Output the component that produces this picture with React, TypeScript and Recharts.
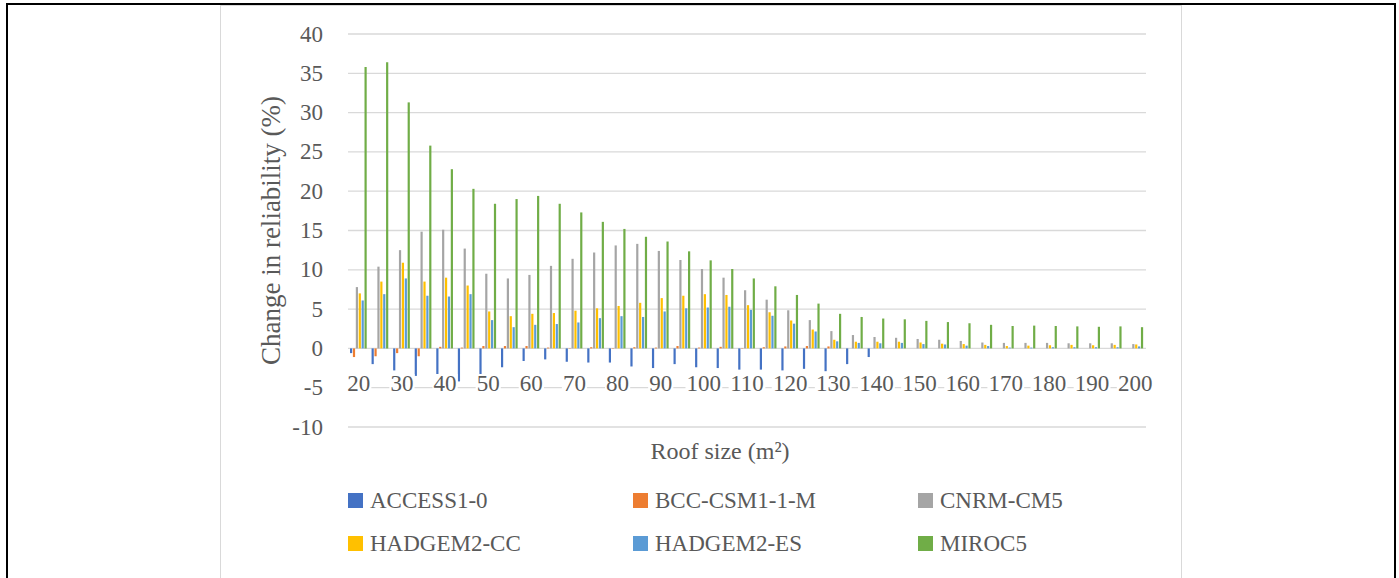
import React from "react";
import { BarChart, Bar, XAxis, YAxis, CartesianGrid, Label } from "recharts";

const roofSizes = [
  20, 25, 30, 35, 40, 45, 50, 55, 60, 65, 70, 75, 80, 85, 90, 95, 100, 105, 110,
  115, 120, 125, 130, 135, 140, 145, 150, 155, 160, 165, 170, 175, 180, 185, 190,
  195, 200,
];

const access10 = [
  -0.6, -2.0, -2.8, -3.5, -3.4, -4.2, -3.4, -2.4, -1.6, -1.4, -1.7, -1.8, -1.8,
  -2.3, -2.5, -2.0, -2.4, -2.5, -2.7, -2.7, -2.8, -2.6, -2.9, -2.0, -1.1, 0, 0,
  0, 0, 0, 0, 0, 0, 0, 0, 0, 0,
];
const bccCsm = [
  -1.1, -1.0, -0.6, -1.0, 0.2, 0.1, 0.3, 0.3, 0.3, 0.1, 0.05, 0.15, 0.05, 0.15,
  0.1, 0.3, 0.1, 0.2, 0.05, 0.15, 0.25, 0.3, 0.25, 0, 0, 0, 0, 0, 0, 0, 0, 0, 0,
  0, 0, 0, 0,
];
const cnrm = [
  7.8, 10.4, 12.5, 14.85, 15.1, 12.7, 9.5, 8.9, 9.35, 10.5, 11.4, 12.2, 13.1,
  13.3, 12.4, 11.25, 10.1, 9.0, 7.4, 6.2, 4.85, 3.6, 2.2, 1.7, 1.45, 1.35, 1.2,
  1.1, 0.95, 0.75, 0.7, 0.7, 0.7, 0.65, 0.65, 0.65, 0.55,
];
const hadgemCC = [
  7.0, 8.5, 10.9, 8.5, 9.0, 8.0, 4.7, 4.1, 4.4, 4.5, 4.8, 5.1, 5.4, 5.8, 6.4,
  6.7, 6.9, 6.8, 5.5, 4.6, 3.55, 2.4, 1.1, 0.85, 0.85, 0.85, 0.75, 0.6, 0.55,
  0.45, 0.3, 0.35, 0.4, 0.45, 0.4, 0.45, 0.5,
];
const hadgemES = [
  6.1, 6.9, 8.9, 6.7, 6.6, 6.9, 3.6, 2.7, 3.0, 3.1, 3.3, 3.85, 4.1, 4.0, 4.7,
  5.1, 5.2, 5.3, 4.9, 4.15, 3.15, 2.15, 0.9, 0.7, 0.65, 0.7, 0.55, 0.5, 0.35,
  0.3, 0.1, 0.1, 0.15, 0.15, 0.15, 0.15, 0.25,
];
const miroc5 = [
  35.8, 36.4, 31.3, 25.8, 22.8, 20.3, 18.4, 19.0, 19.4, 18.4, 17.3, 16.1, 15.2,
  14.2, 13.6, 12.35, 11.2, 10.1, 8.9, 7.9, 6.8, 5.7, 4.4, 4.0, 3.8, 3.7, 3.5,
  3.35, 3.2, 3.0, 2.85, 2.9, 2.85, 2.8, 2.75, 2.8, 2.7,
];

const yTicks = [-10, -5, 0, 5, 10, 15, 20, 25, 30, 35, 40];

const series = [
  { key: "ACCESS1-0", values: access10, color: "#4472C4" },
  { key: "BCC-CSM1-1-M", values: bccCsm, color: "#ED7D31" },
  { key: "CNRM-CM5", values: cnrm, color: "#A5A5A5" },
  { key: "HADGEM2-CC", values: hadgemCC, color: "#FFC000" },
  { key: "HADGEM2-ES", values: hadgemES, color: "#5B9BD5" },
  { key: "MIROC5", values: miroc5, color: "#70AD47" },
];

const data = roofSizes.map((size, i) => {
  const row: Record<string, number | string> = { size: String(size) };
  series.forEach((s) => (row[s.key] = s.values[i]));
  return row;
});

const FONT = '"Liberation Serif", "Times New Roman", serif';
const TEXT = "#595959";

const XTick = ({ x, y, payload }: any) => {
  const label = String(payload.value);
  const w = label.length * 11.6 + 2;
  const cy = y - 44;
  return (
    <g>
      <rect x={x - w / 2} y={cy - 9} width={w} height={18} fill="#fff" />
      <text x={x} y={cy} textAnchor="middle" dominantBaseline="central" fontSize={23} fontFamily={FONT} fill={TEXT}>
        {label}
      </text>
    </g>
  );
};

const YTick = ({ x, y, payload }: any) => (
  <text x={x - 25} y={y} textAnchor="end" dominantBaseline="central" fontSize={23} fontFamily={FONT} fill={TEXT}>
    {payload.value}
  </text>
);

const YTitle = ({ viewBox }: any) => {
  const cx = viewBox.x + 50;
  const cy = viewBox.y + viewBox.height / 2;
  return (
    <text x={cx} y={cy} transform={`rotate(-90 ${cx} ${cy})`} textAnchor="middle" dominantBaseline="central" fontSize={27} fontFamily={FONT} fill={TEXT}>
      Change in reliability (%)
    </text>
  );
};

const XTitle = ({ viewBox }: any) => {
  const cx = viewBox.x + viewBox.width / 2 - 27;
  const cy = viewBox.y + 24;
  return (
    <text x={cx} y={cy} textAnchor="middle" dominantBaseline="central" fontSize={24} fontFamily={FONT} fill={TEXT}>
      Roof size (m²)
    </text>
  );
};

export default function App() {
  return (
    <div style={{ position: "absolute", left: 0, top: 0, width: 1399, height: 578, overflow: "hidden", background: "#fff" }}>
      <div style={{ position: "absolute", left: 6, top: 3, width: 1386, height: 620, borderTop: "2px solid #000", borderLeft: "2px solid #000", borderRight: "2px solid #000" }} />
      <div style={{ position: "absolute", left: 220, top: 5, width: 960, height: 620, border: "1px solid #d9d9d9", background: "#fff" }}>
        <BarChart
          width={960}
          height={572}
          data={data}
          margin={{ top: 28, right: 35, left: 0, bottom: 0 }}
          barSize={2.2}
          barGap={0.7}
        >
          <CartesianGrid vertical={false} stroke="#d9d9d9" strokeWidth={1.3} />
          {series.map((s) => (
            <Bar key={s.key} dataKey={s.key} fill={s.color} isAnimationActive={false} />
          ))}
          <YAxis
            width={127}
            domain={[-10, 40]}
            ticks={yTicks}
            interval={0}
            axisLine={false}
            tickLine={false}
            tickSize={0}
            tickMargin={0}
            tick={<YTick />}
          >
            <Label content={<YTitle />} />
          </YAxis>
          <XAxis
            dataKey="size"
            height={151}
            interval={1}
            axisLine={false}
            tickLine={false}
            tickSize={0}
            tickMargin={0}
            tick={<XTick />}
          >
            <Label content={<XTitle />} />
          </XAxis>
        </BarChart>
        {series.map((s, i) => (
          <div
            key={s.key}
            style={{
              position: "absolute",
              left: 127 + (i % 3) * 285,
              top: 487 + Math.floor(i / 3) * 43.3,
              display: "flex",
              alignItems: "center",
              height: 15,
              fontFamily: FONT,
              fontSize: 23,
              color: TEXT,
              whiteSpace: "nowrap",
            }}
          >
            <span style={{ display: "inline-block", width: 15, height: 15, background: s.color, marginRight: 7 }} />
            <span>{s.key}</span>
          </div>
        ))}
      </div>
    </div>
  );
}
